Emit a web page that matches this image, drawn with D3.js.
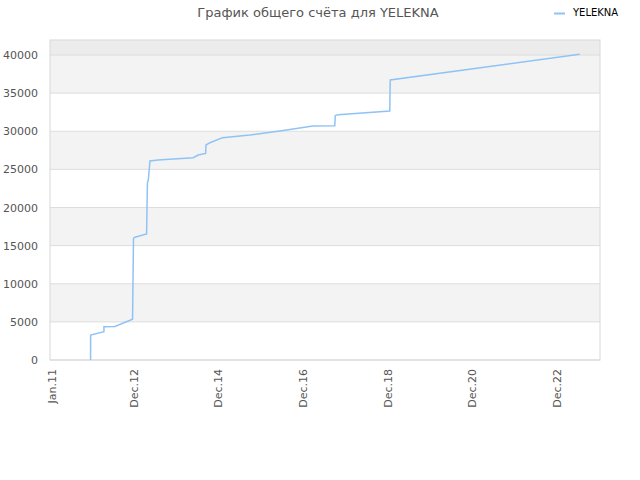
<!DOCTYPE html>
<html>
<head>
<meta charset="utf-8">
<script src="https://cdn.jsdelivr.net/npm/d3@7"></script>
<style>
  body { margin: 0; background: #fff; }
  text { font-family: "DejaVu Sans", sans-serif; }
</style>
</head>
<body>
<div id="chart"></div>
<script>
// data
const dates = ["2011-11-30","2011-11-30","2012-03-24","2012-03-24","2012-06-27","2012-11-26","2012-12-02","2012-12-04",
  "2012-12-16","2013-03-27","2013-04-03","2013-04-12","2013-04-25","2013-07-03","2014-05-03","2014-06-15",
  "2014-08-18","2014-08-21","2014-09-24","2015-01-11","2015-09-04","2016-05-19","2017-02-28","2017-09-05",
  "2017-09-09","2017-10-04","2018-12-23","2018-12-27","2023-06-18"];
const scores = [0, 3280, 3720, 4370, 4400, 5340, 13340, 15960,
  16100, 16520, 23180, 23740, 26100, 26230, 26530, 26890,
  27100, 28200, 28500, 29160, 29500, 30030, 30700, 30730,
  32050, 32180, 32660, 36720, 40090];
const tickDates = ["2011-01-01","2012-12-01","2014-12-01","2016-12-01","2018-12-01","2020-12-01","2022-12-01"];
const tickLabels = ["Jan.11","Dec.12","Dec.14","Dec.16","Dec.18","Dec.20","Dec.22"];
const yTicks = [0,5000,10000,15000,20000,25000,30000,35000,40000];
const seriesName = "YELEKNA";
const title = "График общего счёта для YELEKNA";

const width = 640, height = 480;
const margin = {top: 40, left: 50, bottom: 120, right: 40};
const iwidth = width - margin.left - margin.right;
const iheight = height - margin.top - margin.bottom;
const parse = d3.timeParse("%Y-%m-%d");

const svg = d3.select("#chart").append("svg")
  .attr("width", width)
  .attr("height", height);

const x = d3.scaleTime()
  .domain([parse("2010-12-15"), parse("2023-12-10")])
  .range([0, iwidth]);
const y = d3.scaleLinear()
  .domain([0, 41970])
  .range([iheight, 0]);

const g = svg.append("g").attr("transform", `translate(${margin.left},${margin.top})`);

// alternating bands
const bands = yTicks.map((v, i) => [v, i + 1 < yTicks.length ? yTicks[i + 1] : y.domain()[1]]);
g.selectAll("rect.band").data(bands).enter().append("rect")
  .attr("class", "band")
  .attr("x", 0)
  .attr("width", iwidth)
  .attr("y", d => y(d[1]))
  .attr("height", d => y(d[0]) - y(d[1]))
  .style("fill", (d, i) => i === bands.length - 1 ? "#ececec" : (i % 2 ? "#f3f3f3" : "#ffffff"));

// grid lines
g.selectAll("line.grid").data(yTicks).enter().append("line")
  .attr("x1", 0).attr("x2", iwidth)
  .attr("y1", d => y(d)).attr("y2", d => y(d))
  .style("stroke", "#dddddd");

g.append("rect")
  .attr("width", iwidth).attr("height", iheight)
  .style("fill", "none").style("stroke", "#d8d8d8");

// y axis
const yAxis = g.append("g").call(d3.axisLeft(y).tickValues(yTicks).tickSize(0).tickPadding(12)
  .tickFormat(d3.format("d")));
yAxis.select(".domain").remove();
yAxis.selectAll("text").style("font-size", "11px").style("fill", "#555");

// x axis
const xAxis = g.append("g")
  .attr("transform", `translate(0,${iheight})`)
  .call(d3.axisBottom(x).tickValues(tickDates.map(parse)).tickSize(0)
    .tickFormat((d, i) => tickLabels[i]));
xAxis.select(".domain").remove();
xAxis.selectAll("text")
  .style("font-size", "11px").style("fill", "#555")
  .attr("text-anchor", "end")
  .attr("transform", "rotate(-90)")
  .attr("x", -9).attr("y", 0).attr("dy", "0.35em");

// line
const pts = dates.map((d, i) => ({date: parse(d), v: scores[i]}));
g.append("path")
  .datum(pts)
  .attr("d", d3.line().x(d => x(d.date)).y(d => y(d.v)))
  .style("fill", "none")
  .style("stroke", "#90c3f5")
  .style("stroke-width", 1.5);

// title
svg.append("text")
  .attr("x", 318).attr("y", 17)
  .attr("text-anchor", "middle")
  .style("font-size", "13px").style("fill", "#555")
  .text(title);

// legend
svg.append("line")
  .attr("x1", 554).attr("x2", 565).attr("y1", 13.5).attr("y2", 13.5)
  .style("stroke", "#90c3f5").style("stroke-width", 2);
svg.append("text")
  .attr("x", 573).attr("y", 16)
  .style("font-size", "10px").style("fill", "#000")
  .text(seriesName);
</script>
</body>
</html>
